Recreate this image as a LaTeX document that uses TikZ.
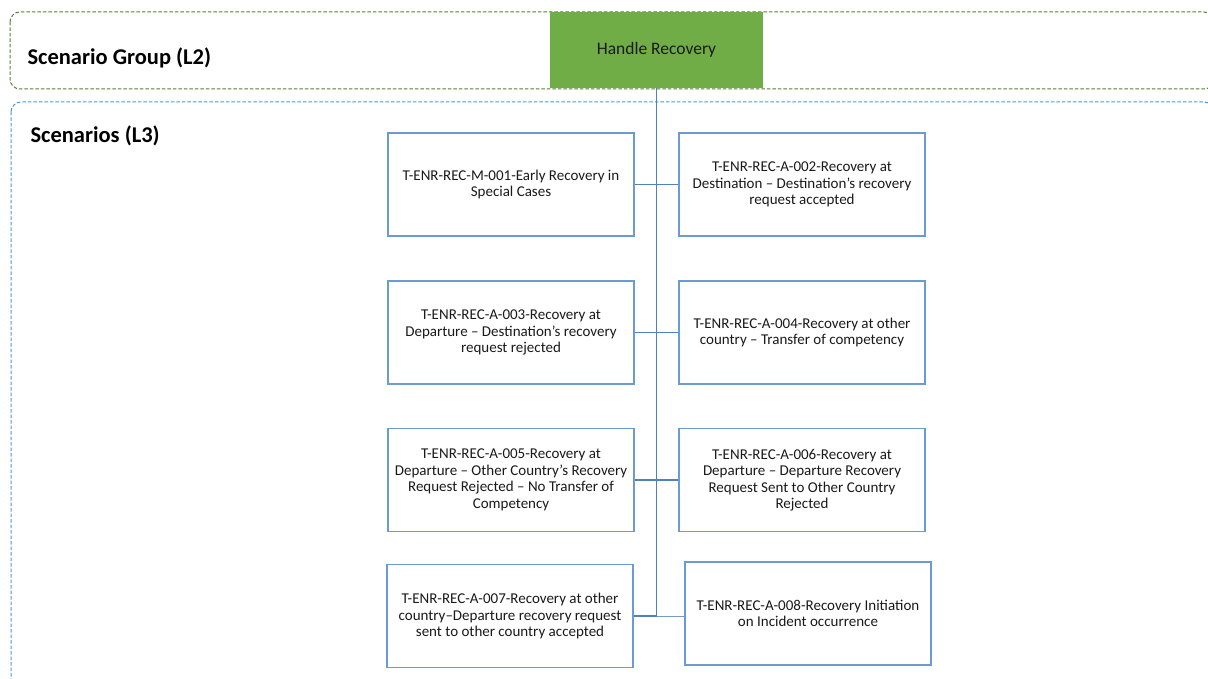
\documentclass[tikz,border=0pt]{standalone}
\usepackage{fontspec}
\setmainfont{Carlito}
\definecolor{grpgreen}{HTML}{548235}
\definecolor{fillgreen}{HTML}{70AD47}
\definecolor{scnblue}{HTML}{4A9AD8}
\definecolor{boxblue}{HTML}{6C9BD2}
\definecolor{linkblue}{HTML}{4F81BD}
\definecolor{txt}{HTML}{1A1A1A}
\begin{document}
\begin{tikzpicture}[x=1pt,y=-1pt,
  scbox/.style={draw=boxblue,line width=1.1pt,fill=white,minimum width=246pt,minimum height=103pt,
    align=center,inner sep=0pt,font=\fontsize{15}{16.5}\selectfont,text=txt},
  link/.style={draw=linkblue,line width=1.1pt},
  thinlink/.style={draw=linkblue!80,line width=0.6pt},
  frame/.style={dash pattern=on 3.5pt off 2pt,line width=1pt,rounded corners=10pt},
  title/.style={anchor=west,font=\fontsize{22.5}{26}\selectfont\bfseries,text=black}]
\useasboundingbox (0,0) rectangle (1208,679);
\fill[white] (0,0) rectangle (1208,679);
% group frames
\draw[grpgreen,frame] (10,12) rectangle (1214,89);
\draw[scnblue,frame] (11,102) rectangle (1214,700);
\node[title] (tgrp) at (24,58) {Scenario Group (L2)};
\node[title] (tscn) at (27,136) {Scenarios (L3)};
% top node
\node[fill=fillgreen,minimum width=213pt,minimum height=76pt,inner sep=0pt,
  font=\fontsize{17.5}{20}\selectfont,text=txt] (hr) at (656.5,50) {Handle Recovery};
% scenario boxes
\node[scbox] (l1) at (511,184.5) {T-ENR-REC-M-001-Early Recovery in\\Special Cases};
\node[scbox] (r1) at (802,184.5) {T-ENR-REC-A-002-Recovery at\\Destination – Destination’s recovery\\request accepted};
\node[scbox] (l2) at (511,332.5) {T-ENR-REC-A-003-Recovery at\\Departure – Destination’s recovery\\request rejected};
\node[scbox] (r2) at (802,332.5) {T-ENR-REC-A-004-Recovery at other\\country – Transfer of competency};
\node[scbox] (l3) at (511,480) {T-ENR-REC-A-005-Recovery at\\Departure – Other Country’s Recovery\\Request Rejected – No Transfer of\\Competency};
\node[scbox] (r3) at (802,480) {T-ENR-REC-A-006-Recovery at\\Departure – Departure Recovery\\Request Sent to Other Country\\Rejected};
\node[scbox] (l4) at (510,616) {T-ENR-REC-A-007-Recovery at other\\country–Departure recovery request\\sent to other country accepted};
\node[scbox] (r4) at (808,613.5) {T-ENR-REC-A-008-Recovery Initiation\\on Incident occurrence};
% connectors
\coordinate (spine) at (hr.south |- l4.east);
\draw[link] (hr.south) -- (spine) -- (l4.east);
\draw[thinlink] (spine) -- (r4.west |- spine);
\draw[link] (l1.east) -- (r1.west);
\draw[link] (l2.east) -- (r2.west);
\draw[link] (l3.east) -- (r3.west);
\end{tikzpicture}
\end{document}
